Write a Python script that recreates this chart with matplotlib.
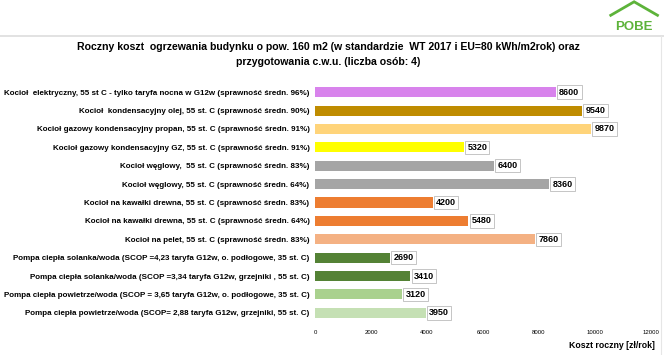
import matplotlib
matplotlib.use("Agg")
import matplotlib.pyplot as plt

LBL = 'Liberation Sans'

categories = [
    "Kocioł  elektryczny, 55 st C - tylko taryfa nocna w G12w (sprawność średn. 96%)",
    "Kocioł  kondensacyjny olej, 55 st. C (sprawność średn. 90%)",
    "Kocioł gazowy kondensacyjny propan, 55 st. C (sprawność średn. 91%)",
    "Kocioł gazowy kondensacyjny GZ, 55 st. C (sprawność średn. 91%)",
    "Kocioł węglowy,  55 st. C (sprawność średn. 83%)",
    "Kocioł węglowy, 55 st. C (sprawność średn. 64%)",
    "Kocioł na kawałki drewna, 55 st. C (sprawność średn. 83%)",
    "Kocioł na kawałki drewna, 55 st. C (sprawność średn. 64%)",
    "Kocioł na pelet, 55 st. C (sprawność średn. 83%)",
    "Pompa ciepła solanka/woda (SCOP =4,23 taryfa G12w, o. podłogowe, 35 st. C)",
    "Pompa ciepła solanka/woda (SCOP =3,34 taryfa G12w, grzejniki , 55 st. C)",
    "Pompa ciepła powietrze/woda (SCOP = 3,65 taryfa G12w, o. podłogowe, 35 st. C)",
    "Pompa ciepła powietrze/woda (SCOP= 2,88 taryfa G12w, grzejniki, 55 st. C)",
]
values = [8600, 9540, 9870, 5320, 6400, 8360, 4200, 5480, 7860, 2690, 3410, 3120, 3950]
colors = ["#D883EC", "#BF8C00", "#FFD47A", "#FFFF00", "#A5A5A5", "#A5A5A5",
          "#ED7D31", "#ED7D31", "#F4B183", "#548235", "#548235", "#A9D18E", "#C5E0B4"]
xticks = [0, 2000, 4000, 6000, 8000, 10000, 12000]

fig = plt.figure(figsize=(6.64, 3.55), dpi=100)
fig.patch.set_facecolor("white")

# header separator and frame
fig.add_artist(plt.Line2D([0, 1], [1 - 36/355, 1 - 36/355], color="#DDDDDD", lw=1.2))
fig.add_artist(plt.Line2D([0.995, 0.995], [0.0, 1 - 36/355], color="#E6E6E6", lw=0.8))

# logo
fig.text(0.955, 0.925, "POBE", color="#5DB33A", fontsize=9.5, fontweight="bold",
         ha="center", va="center", family=LBL)
fig.add_artist(plt.Polygon([[0.918, 0.955], [0.955, 0.995], [0.992, 0.955]],
                           closed=False, fill=False, edgecolor="#5DB33A", lw=2.0))

fig.text(0.495, 1 - 47/355,
         "Roczny koszt  ogrzewania budynku o pow. 160 m2 (w standardzie  WT 2017 i EU=80 kWh/m2rok) oraz",
         ha="center", va="center", fontsize=7.6, fontweight="bold", family=LBL)
fig.text(0.495, 1 - 62/355, "przygotowania c.w.u. (liczba osób: 4)",
         ha="center", va="center", fontsize=7.6, fontweight="bold", family=LBL)

ax = fig.add_axes([315/664, 1 - 322/355, (651 - 315)/664, (322 - 83)/355])
y = list(range(len(values)))
ax.barh(y, values, height=0.55, color=colors, lw=0)
ax.set_ylim(len(values) - 0.5, -0.5)
ax.set_xlim(0, 12000)
ax.set_yticks(y)
ax.set_yticklabels(categories, fontsize=5.8, fontweight="bold", family=LBL)
ax.set_xticks(xticks)
ax.set_xticklabels([str(t) for t in xticks], fontsize=4.3, family=LBL)
ax.tick_params(axis="both", length=0, pad=4)
ax.tick_params(axis="x", pad=6)
for s in ax.spines.values():
    s.set_visible(False)

for yi, v in zip(y, values):
    ax.text(v + 120, yi, str(v), va="center", ha="left", fontsize=6.5,
            fontweight="bold", family=LBL,
            bbox=dict(boxstyle="square,pad=0.25", fc="white", ec="#BBBBBB", lw=0.6))

fig.text(655/664, 1 - 345/355, "Koszt roczny [zł/rok]", ha="right", va="center",
         fontsize=6.3, fontweight="bold", family=LBL)

fig.savefig("out.png", dpi=100)
